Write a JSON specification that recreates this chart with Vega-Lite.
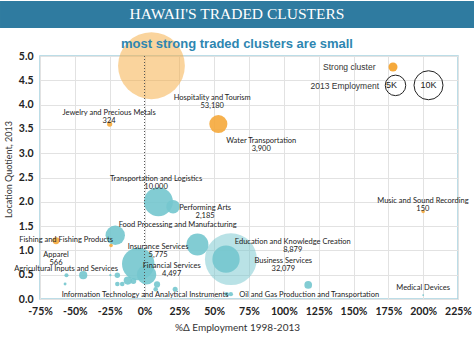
{
  "$schema": "https://vega.github.io/schema/vega-lite/v6.json",
  "padding": 0,
  "width": 418,
  "height": 243,
  "background": "white",
  "view": {"stroke": "#a6d2e0", "strokeWidth": 1.5},
  "title": {"text": "most strong traded clusters are small", "font": "Liberation Sans", "fontSize": 13, "fontWeight": "bold", "color": "#2e86b1", "frame": "bounds", "anchor": "middle", "offset": -50},
  "datasets": {
    "banner": [{"t": "HAWAII'S TRADED CLUSTERS"}],
    "clusters": [
      {"cluster": "Hospitality and Tourism", "chg": 5, "lq": 4.8, "emp": 53180, "type": "Strong cluster"},
      {"cluster": "Water Transportation", "chg": 53, "lq": 3.6, "emp": 3900, "type": "Strong cluster"},
      {"cluster": "Jewelry and Precious Metals", "chg": -25, "lq": 3.6, "emp": 324, "type": "Strong cluster"},
      {"cluster": "Music and Sound Recording", "chg": 200, "lq": 1.8, "emp": 150, "type": "Strong cluster"},
      {"cluster": "Apparel", "chg": -63.5, "lq": 1.2, "emp": 566, "type": "Strong cluster"},
      {"cluster": "Fishing and Fishing Products", "chg": -24, "lq": 1.1, "emp": 150, "type": "Strong cluster"},
      {"cluster": "Transportation and Logistics", "chg": 10, "lq": 2.0, "emp": 10000, "type": "Other"},
      {"cluster": "Performing Arts", "chg": 20.5, "lq": 1.9, "emp": 2185, "type": "Other"},
      {"cluster": "Food Processing and Manufacturing", "chg": -21, "lq": 1.31, "emp": 4500, "type": "Other"},
      {"cluster": "Insurance Services", "chg": 38, "lq": 1.12, "emp": 5775, "type": "Other"},
      {"cluster": "Business Services", "chg": 62, "lq": 0.82, "emp": 32079, "type": "Other"},
      {"cluster": "Education and Knowledge Creation", "chg": 58.5, "lq": 0.82, "emp": 8879, "type": "Other"},
      {"cluster": "Distribution and Electronic Commerce", "chg": -4.5, "lq": 0.72, "emp": 12500, "type": "Other"},
      {"cluster": "Financial Services", "chg": 1.5, "lq": 0.5, "emp": 4497, "type": "Other"},
      {"cluster": "Agricultural Inputs and Services", "chg": -56, "lq": 0.49, "emp": 200, "type": "Other"},
      {"cluster": "Oil and Gas Production and Transportation", "chg": 117.5, "lq": 0.29, "emp": 700, "type": "Other"},
      {"cluster": "Medical Devices", "chg": 200, "lq": 0.08, "emp": 40, "type": "Other"},
      {"cluster": "Information Technology and Analytical Instruments", "chg": 59, "lq": 0.1, "emp": 220, "type": "Other"},
      {"cluster": "Other cluster A", "chg": 62, "lq": 0.1, "emp": 220, "type": "Other"},
      {"cluster": "Other cluster B", "chg": -44, "lq": 0.49, "emp": 800, "type": "Other"},
      {"cluster": "Other cluster C", "chg": -57, "lq": 0.31, "emp": 100, "type": "Other"},
      {"cluster": "Other cluster D", "chg": -24.5, "lq": 0.49, "emp": 60, "type": "Other"},
      {"cluster": "Other cluster E", "chg": -19.5, "lq": 0.49, "emp": 350, "type": "Other"},
      {"cluster": "Other cluster F", "chg": -19.5, "lq": 0.31, "emp": 250, "type": "Other"},
      {"cluster": "Other cluster G", "chg": -16, "lq": 0.31, "emp": 250, "type": "Other"},
      {"cluster": "Other cluster H", "chg": -12, "lq": 0.38, "emp": 800, "type": "Other"},
      {"cluster": "Other cluster I", "chg": -8, "lq": 0.37, "emp": 400, "type": "Other"},
      {"cluster": "Other cluster J", "chg": 9, "lq": 0.3, "emp": 450, "type": "Other"},
      {"cluster": "Other cluster K", "chg": 8, "lq": 0.2, "emp": 250, "type": "Other"},
      {"cluster": "Other cluster L", "chg": 22, "lq": 0.2, "emp": 300, "type": "Other"}
    ],
    "labels": [
      {"label": "Hospitality and Tourism\n53,180", "chg": 48.6, "lq": 4.13},
      {"label": "Jewelry and Precious Metals\n324", "chg": -25.4, "lq": 3.83},
      {"label": "Water Transportation\n3,900", "chg": 83.8, "lq": 3.26},
      {"label": "Transportation and Logistics\n10,000", "chg": 8.3, "lq": 2.47},
      {"label": "Performing Arts\n2,185", "chg": 43.5, "lq": 1.88},
      {"label": "Food Processing and Manufacturing", "chg": 23.8, "lq": 1.52},
      {"label": "Fishing and Fishing Products", "chg": -56.3, "lq": 1.21},
      {"label": "Apparel\n566", "chg": -63.5, "lq": 0.91},
      {"label": "Insurance Services\n5,775", "chg": 9.8, "lq": 1.08},
      {"label": "Financial Services\n4,497", "chg": 19.5, "lq": 0.68},
      {"label": "Agricultural Inputs and Services", "chg": -56.3, "lq": 0.61},
      {"label": "Information Technology and Analytical Instruments", "chg": 0.4, "lq": 0.08},
      {"label": "Education and Knowledge Creation\n8,879", "chg": 106.4, "lq": 1.17},
      {"label": "Business Services\n32,079", "chg": 99.6, "lq": 0.78},
      {"label": "Oil and Gas Production and Transportation", "chg": 118.2, "lq": 0.08},
      {"label": "Music and Sound Recording\n150", "chg": 199.8, "lq": 2.02},
      {"label": "Medical Devices", "chg": 200, "lq": 0.23}
    ]
  },
  "layer": [
    {
      "data": {"name": "banner"},
      "mark": {"type": "rect", "color": "#2f7ba0"},
      "encoding": {
        "x": {"datum": -103.7, "type": "quantitative", "scale": {"domain": [-75, 225], "nice": false, "zero": false},
          "axis": {"title": "%Δ Employment 1998-2013", "values": [-75, -50, -25, 0, 25, 50, 75, 100, 125, 150, 175, 200, 225], "tickCount": 20, "labelExpr": "datum.value + '%'", "labelOverlap": false, "labelBound": false, "labelFlush": false, "titleX": 197}},
        "x2": {"datum": 236.5},
        "y": {"datum": 6.132, "type": "quantitative", "scale": {"domain": [0, 5], "nice": false},
          "axis": {"title": "Location Quotient, 2013", "values": [0, 0.5, 1, 1.5, 2, 2.5, 3, 3.5, 4, 4.5, 5], "tickCount": 20, "format": ".1f", "labelOverlap": false, "labelBound": false, "labelFlush": false, "titleY": 113}},
        "y2": {"datum": 5.576}
      }
    },
    {
      "data": {"name": "banner"},
      "mark": {"type": "text", "font": "Liberation Serif", "fontSize": 15.5, "color": "white", "letterSpacing": 2, "align": "center", "baseline": "middle"},
      "encoding": {
        "x": {"datum": 66.4, "type": "quantitative"},
        "y": {"datum": 5.854, "type": "quantitative"},
        "text": {"field": "t"}
      }
    },
    {
      "data": {"name": "clusters"},
      "mark": {"type": "point", "filled": true, "shape": "circle", "strokeWidth": 0},
      "encoding": {
        "x": {"field": "chg", "type": "quantitative", "title": "%Δ Employment 1998-2013"},
        "y": {"field": "lq", "type": "quantitative", "title": "Location Quotient, 2013"},
        "size": {"field": "emp", "type": "quantitative", "scale": {"type": "linear", "zero": true, "domain": [0, 50000], "range": [0, 4200]},
          "legend": {"values": [5000, 10000], "title": "2013 Employment", "orient": "none", "legendX": 270.5, "legendY": 14, "direction": "horizontal", "titleOrient": "left", "titlePadding": 5, "titleFont": "Liberation Sans", "titleFontSize": 8.5, "titleFontWeight": "normal", "titleColor": "#333", "titleBaseline": "middle",
            "labelExpr": "(datum.value / 1000) + 'K'", "labelAlign": "center", "labelBaseline": "middle", "labelOffset": -15, "labelFont": "Liberation Sans", "labelFontSize": 9, "labelColor": "#222", "columnPadding": 3,
            "symbolFillColor": "transparent", "symbolStrokeColor": "#222", "symbolStrokeWidth": 1, "symbolOpacity": 1,
            "encode": {"symbols": {"update": {"fill": {"value": "transparent"}, "fillOpacity": {"value": 0}, "stroke": {"value": "#222"}, "strokeWidth": {"value": 1}, "opacity": {"value": 1}}}}}},
        "color": {"field": "type", "type": "nominal", "scale": {"domain": ["Strong cluster", "Other"], "range": ["#f5a93b", "#74c6ce"]},
          "legend": {"values": ["Strong cluster"], "title": null, "orient": "none", "legendX": 348.5, "legendY": 6.5, "symbolSize": 81, "symbolType": "circle", "symbolStrokeWidth": 0, "symbolOpacity": 1, "labelAlign": "right", "labelOffset": -22, "labelFont": "Liberation Sans", "labelFontSize": 8.5, "labelColor": "#333",
            "encode": {"symbols": {"update": {"opacity": {"value": 1}}}}}},
        "opacity": {"condition": {"test": "datum.emp > 20000", "value": 0.5}, "value": 0.9},
        "order": {"field": "emp", "sort": "descending"}
      }
    },
    {
      "data": {"name": "banner"},
      "mark": {"type": "rule", "color": "#555", "strokeDash": [1, 2], "strokeWidth": 1},
      "encoding": {"x": {"datum": 0, "type": "quantitative"}}
    },
    {
      "data": {"name": "labels"},
      "mark": {"type": "text", "font": "Lato", "fontSize": 7.5, "color": "#222", "lineBreak": "\n", "lineHeight": 8, "align": "center", "baseline": "middle"},
      "encoding": {
        "x": {"field": "chg", "type": "quantitative"},
        "y": {"field": "lq", "type": "quantitative"},
        "text": {"field": "label"}
      }
    }
  ],
  "config": {
    "axis": {"grid": true, "gridColor": "#e2e2e2", "gridWidth": 1, "ticks": false, "domain": false, "labelFlush": false, "labelFont": "Lato", "labelFontSize": 10.5, "labelFontWeight": "bold", "labelColor": "#222", "labelPadding": 7, "titleFont": "Lato", "titleFontWeight": "normal", "titleColor": "#333"},
    "axisY": {"titleFontSize": 9, "titlePadding": 5},
    "axisX": {"titleFontSize": 10, "titlePadding": 6}
  }
}
